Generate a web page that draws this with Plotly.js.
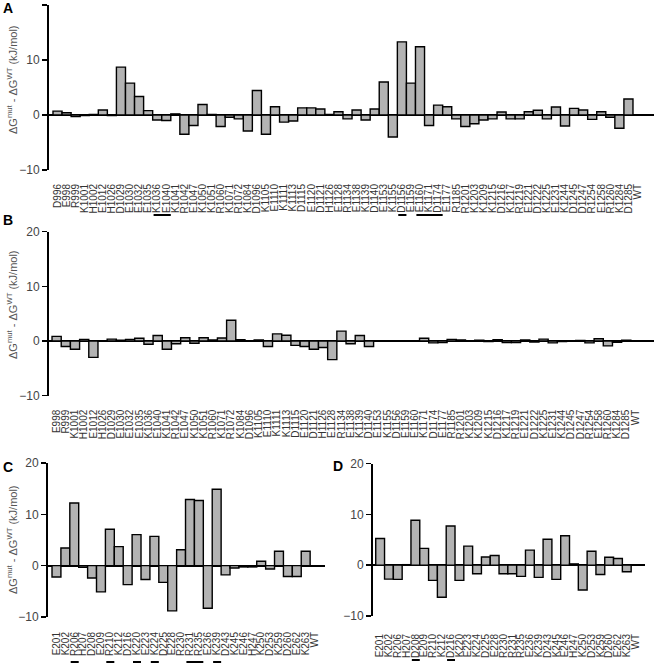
<!DOCTYPE html>
<html>
<head>
<meta charset="utf-8">
<script src="https://cdn.plot.ly/plotly-3.0.1.min.js"></script>
<style>
  html, body { margin: 0; padding: 0; background: #fff; }
  #chart { width: 656px; height: 665px; }
</style>
</head>
<body>
<div id="chart"></div>
<script>
// panel A / B: full-length residues
const labelsA = ['D996','E998','R999','K1001','H1002','E1012','H1026','D1029','E1030','E1032','E1035','K1036','E1040','K1041','R1042','E1047','K1050','K1051','R1060','K1071','R1072','K1084','D1096','K1105','E1110','K1111','K1113','D1115','E1120','D1121','H1126','E1128','R1134','E1138','K1139','D1140','E1153','K1155','D1156','E1159','E1160','K1171','D1174','E1177','R1185','R1201','K1203','K1209','K1215','D1216','K1217','R1219','E1221','D1222','K1225','E1231','K1244','D1245','D1247','R1254','E1258','R1260','K1284','D1285','WT'];
const valuesA = [0.7,0.4,-0.3,-0.1,0.1,0.9,-0.1,8.7,5.8,3.35,0.8,-0.9,-1.0,0.2,-3.5,-1.9,1.9,0.1,-2.1,-0.4,-0.7,-2.9,4.45,-3.5,1.5,-1.3,-1.1,1.3,1.3,1.1,0.1,0.6,-0.7,0.9,-0.9,1.1,6.0,-4.0,13.3,5.8,12.4,-1.9,1.8,1.5,-0.7,-2.1,-1.6,-0.9,-0.7,0.55,-0.7,-0.7,0.6,0.85,-0.7,1.45,-2.0,1.2,0.9,-0.8,0.6,-0.4,-2.4,2.9,0];

const labelsB = labelsA.slice(1);
const valuesB = [0.85,-1.0,-1.5,0.3,-3.0,0.05,0.35,0.15,0.3,0.5,-0.6,1.0,-1.5,-0.5,0.6,-0.4,0.6,0.2,0.55,3.8,0.25,0.05,0.2,-1.0,1.3,1.05,-0.8,-1.0,-1.5,-1.2,-3.4,1.8,-0.5,1.0,-1.0,0.02,0.02,0.02,0.02,0.05,0.5,-0.35,-0.3,0.3,0.2,0.05,0.15,-0.1,0.25,-0.3,-0.3,0.2,-0.2,0.35,-0.35,-0.1,0.05,0.1,-0.35,0.4,-0.9,-0.25,0.15,0];

// panel C / D: fragment residues
const labelsC = ['E201','K202','R206','H207','D208','E209','R210','K212','D216','K220','E223','K224','D225','E228','R230','R231','R235','E236','K239','D243','K245','E246','H247','K250','D253','K259','D260','E262','K263','WT'];
const valuesC = [-2.2,3.45,12.2,-0.3,-2.4,-5.1,7.1,3.7,-3.7,6.05,-2.7,5.7,-3.25,-8.8,3.1,12.9,12.7,-8.3,14.9,-1.8,-0.45,-0.25,-0.25,0.85,-0.65,2.8,-2.1,-2.1,2.8,0];
const labelsD = labelsC;
const valuesD = [5.25,-2.75,-2.8,0.1,8.85,3.3,-3.0,-6.3,7.7,-3.0,3.75,-1.7,1.6,1.9,-1.7,-1.7,-2.2,2.95,-2.4,5.1,-2.8,5.8,0.25,-4.9,2.75,-1.85,1.55,1.3,-1.3,0];

// underlined residue groups [from, to]
const underlinesA = [['K1036','E1040'], ['D1156','D1156'], ['E1160','D1174']];
const underlinesC = [['R206','R206'], ['R210','R210'], ['K220','K220'], ['K224','K224'], ['R231','R235'], ['K239','K239']];
const underlinesD = [['D208','D208'], ['D216','D216']];

const W = 656, H = 665;
const px = (a, b) => [a / W, b / W];
const py = (top, bottom) => [1 - bottom / H, 1 - top / H];

const BAR_FILL = '#b3b3b3';
const TICK_COLOR = '#444';
const FONT = 'Liberation Sans, Arial, sans-serif';

function barTrace(labels, values, n) {
    const sfx = n === 1 ? '' : n;
    return {
        type: 'bar', x: labels, y: values,
        xaxis: 'x' + sfx, yaxis: 'y' + sfx,
        width: 1,
        marker: { color: BAR_FILL, line: { color: '#000', width: 1.4 } },
        hoverinfo: 'x+y'
    };
}

function xAxis(labels, domain, range, anchor, standoff) {
    return {
        domain: domain, anchor: anchor, type: 'category', range: range,
        tickmode: 'array', tickvals: labels, ticktext: labels,
        tickangle: -90, ticks: '', ticklabelstandoff: standoff,
        tickfont: { family: FONT, size: 10, color: '#333' },
        showline: false, showgrid: false, zeroline: false, fixedrange: true
    };
}

function yAxis(domain, anchor) {
    return {
        domain: domain, anchor: anchor, range: [-10, 20],
        tickmode: 'array', tickvals: [-10, 0, 10, 20],
        ticks: 'outside', ticklen: 5, tickwidth: 1.5, tickcolor: '#000',
        tickfont: { family: FONT, size: 12, color: TICK_COLOR },
        showline: true, linewidth: 2, linecolor: '#000',
        zeroline: true, zerolinewidth: 2, zerolinecolor: '#000',
        showgrid: false, fixedrange: true
    };
}

function underlineShapes(groups, labels, xref, yPx) {
    return groups.map(([a, b]) => ({
        type: 'line', xref: xref, yref: 'paper',
        x0: labels.indexOf(a) - 0.4, x1: labels.indexOf(b) + 0.5,
        y0: 1 - yPx / H, y1: 1 - yPx / H,
        line: { color: '#000', width: 2 }
    }));
}

const yTitle = '\u0394G<sup>mut</sup> - \u0394G<sup>WT</sup> (kJ/mol)';
function titleAnn(yc) {
    return {
        text: yTitle, xref: 'paper', yref: 'paper', x: 12 / W, y: 1 - yc / H,
        textangle: -90, showarrow: false, xanchor: 'center', yanchor: 'middle',
        font: { family: FONT, size: 11, color: '#555' }
    };
}
function letterAnn(txt, x, y) {
    return {
        text: '<b>' + txt + '</b>', xref: 'paper', yref: 'paper', x: x / W, y: 1 - y / H,
        showarrow: false, xanchor: 'center', yanchor: 'middle',
        font: { family: FONT, size: 14, color: '#000' }
    };
}

const data = [
    barTrace(labelsA, valuesA, 1),
    barTrace(labelsB, valuesB, 2),
    barTrace(labelsC, valuesC, 3),
    barTrace(labelsD, valuesD, 4)
];

const layout = {
    width: W, height: H,
    margin: { l: 0, r: 0, t: 0, b: 0 },
    paper_bgcolor: '#fff', plot_bgcolor: '#fff',
    showlegend: false, bargap: 0,
    font: { family: FONT },
    xaxis: xAxis(labelsA, px(49, 654), [-0.94, 65.82], 'y', 11),
    yaxis: yAxis(py(5, 170), 'x'),
    xaxis2: xAxis(labelsB, px(49, 654), [-0.83, 65.02], 'y2', 11),
    yaxis2: yAxis(py(231.6, 395.7), 'x2'),
    xaxis3: xAxis(labelsC, px(48, 325), [-0.95, 30.17], 'y3', 12),
    yaxis3: yAxis(py(463, 617), 'x3'),
    xaxis4: xAxis(labelsD, px(373, 645), [-0.81, 30.07], 'y4', 15),
    yaxis4: yAxis(py(463.5, 616), 'x4'),
    shapes: [
        ...underlineShapes(underlinesA, labelsA, 'x', 215),
        ...underlineShapes(underlinesC, labelsC, 'x3', 662),
        ...underlineShapes(underlinesD, labelsD, 'x4', 660)
    ],
    annotations: [
        letterAnn('A', 8, 8), letterAnn('B', 8, 220), letterAnn('C', 8, 467), letterAnn('D', 338, 466),
        titleAnn(80), titleAnn(305), titleAnn(540)
    ]
};

Plotly.newPlot('chart', data, layout, { displayModeBar: false, staticPlot: true });
</script>
</body>
</html>
